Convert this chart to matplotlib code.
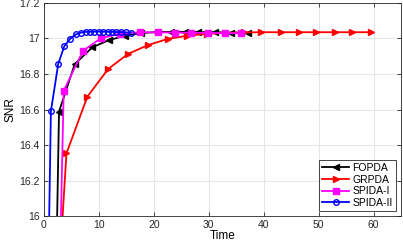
import matplotlib
matplotlib.use("Agg")
import matplotlib.pyplot as plt

plt.rcParams['font.family'] = ['Liberation Sans', 'DejaVu Sans']

# FOPDA (black, '<')
fopda_t = [2.0, 2.75, 5.6, 8.8, 11.8, 14.7, 17.6, 20.6, 23.2, 25.6, 28.0, 31.1, 34.1, 37.1]
fopda_snr = [15.3, 16.588, 16.855, 16.95, 16.99, 17.015, 17.03, 17.036, 17.037, 17.037,
             17.036, 17.035, 17.033, 17.032]

# GRPDA (red, '>')
grpda_t = [2.8, 4.1, 7.9, 11.7, 15.3, 19.0, 22.6, 26.1, 29.6, 32.9, 36.5, 39.6, 43.2,
           46.5, 49.6, 52.9, 56.1, 59.6]
grpda_snr = [15.7, 16.353, 16.672, 16.828, 16.913, 16.963, 16.998, 17.015, 17.026, 17.031,
             17.034, 17.035, 17.035, 17.035, 17.035, 17.035, 17.035, 17.035]

# SPIDA-I (magenta, squares)
spida1_t = [2.6, 3.6, 7.1, 10.3, 13.9, 17.5, 20.8, 23.9, 26.8, 29.9, 32.9, 35.9]
spida1_snr = [15.3, 16.706, 16.93, 17.0, 17.027, 17.035, 17.034, 17.033, 17.032, 17.031,
              17.03, 17.029]

# SPIDA-II (blue, circles)
spida2_t = [0.5, 1.27, 2.6, 3.7, 4.8, 5.9, 6.8, 7.6, 8.4, 9.2, 10.0, 10.8, 11.6, 12.4,
            13.2, 14.1, 15.0, 15.8]
spida2_snr = [15.13, 16.59, 16.856, 16.956, 16.999, 17.024, 17.033, 17.037, 17.038, 17.038,
              17.038, 17.038, 17.037, 17.037, 17.036, 17.035, 17.034, 17.033]

fig = plt.figure(figsize=(4.03, 2.42), dpi=100)
ax = fig.add_axes([0.109, 0.107, 0.886, 0.881])

ax.plot(fopda_t, fopda_snr, color='black', marker='<', ms=5, lw=1.3, label='FOPDA')
ax.plot(grpda_t, grpda_snr, color='red', marker='>', ms=5, lw=1.3, label='GRPDA')
ax.plot(spida1_t, spida1_snr, color='magenta', marker='s', ms=4, lw=1.3, label='SPIDA-I')
ax.plot(spida2_t, spida2_snr, color='blue', marker='o', ms=4, lw=1.3,
        mfc='none', mew=1.0, label='SPIDA-II')

ax.set_xlim(0, 65)
ax.set_ylim(16, 17.2)
ax.set_xticks([0, 10, 20, 30, 40, 50, 60])
ax.set_yticks([16, 16.2, 16.4, 16.6, 16.8, 17, 17.2])
ax.set_yticklabels(['16', '16.2', '16.4', '16.6', '16.8', '17', '17.2'])
ax.tick_params(direction='in', top=True, right=True, labelsize=7.5, length=3,
               width=0.6, colors='#262626', pad=3)
ax.grid(True, color='#e6e6e6', lw=0.8)
ax.set_axisbelow(True)
for s in ax.spines.values():
    s.set_linewidth(0.6)
    s.set_color('#262626')

ax.set_xlabel('Time', fontsize=8.5, labelpad=0)
ax.set_ylabel('SNR', fontsize=8.5, labelpad=2)

leg = ax.legend(loc='lower right', fontsize=7.5, fancybox=False, framealpha=1,
                edgecolor='#262626', borderpad=0.3, labelspacing=0.15,
                handlelength=2.6, handletextpad=0.3, borderaxespad=0.5)
leg.get_frame().set_linewidth(0.6)

fig.savefig("out.png", dpi=100)
